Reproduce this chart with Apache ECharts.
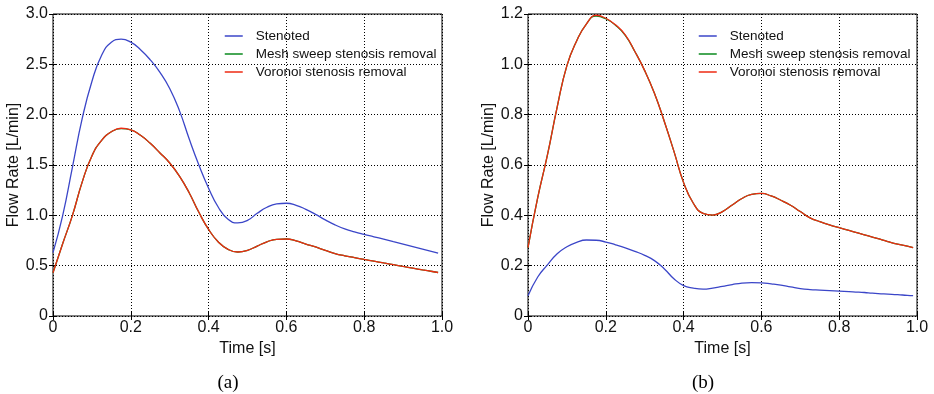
<!DOCTYPE html>
<html><head><meta charset="utf-8">
<script src="https://cdn.jsdelivr.net/npm/echarts@6/dist/echarts.min.js"></script>
<style>html,body{margin:0;padding:0;background:#fff}#c{width:934px;height:394px}</style>
</head><body><div id="c"></div>
<script>
// ---- data ----
const time = [0, 0.025, 0.05, 0.075, 0.1, 0.125, 0.15, 0.175, 0.2, 0.225, 0.25, 0.275, 0.3, 0.325, 0.35, 0.375, 0.4, 0.425, 0.45, 0.475, 0.5, 0.525, 0.55, 0.575, 0.6, 0.625, 0.65, 0.675, 0.7, 0.725, 0.75, 0.775, 0.8, 0.825, 0.85, 0.875, 0.9, 0.925, 0.95, 0.975, 0.99];
const seriesNames = ['Stenoted', 'Mesh sweep stenosis removal', 'Voronoi stenosis removal'];
// panel (a)
const aStenoted = [0.63, 1.00, 1.48, 1.96, 2.33, 2.59, 2.72, 2.75, 2.72, 2.645, 2.545, 2.42, 2.26, 2.04, 1.76, 1.50, 1.27, 1.08, 0.96, 0.925, 0.95, 1.02, 1.08, 1.113, 1.12, 1.10, 1.06, 1.01, 0.955, 0.905, 0.865, 0.835, 0.81, 0.787, 0.763, 0.738, 0.714, 0.69, 0.665, 0.64, 0.625];
const aMesh     = [0.43, 0.72, 1.00, 1.33, 1.59, 1.745, 1.83, 1.862, 1.85, 1.795, 1.715, 1.62, 1.52, 1.39, 1.225, 1.03, 0.86, 0.735, 0.662, 0.636, 0.652, 0.695, 0.737, 0.762, 0.765, 0.746, 0.715, 0.686, 0.652, 0.62, 0.598, 0.58, 0.562, 0.545, 0.527, 0.51, 0.492, 0.475, 0.458, 0.442, 0.432];
const aVoronoi  = [0.43, 0.72, 1.00, 1.33, 1.59, 1.745, 1.83, 1.865, 1.85, 1.795, 1.715, 1.62, 1.52, 1.39, 1.225, 1.03, 0.86, 0.735, 0.662, 0.636, 0.652, 0.695, 0.737, 0.762, 0.765, 0.746, 0.715, 0.686, 0.652, 0.62, 0.598, 0.58, 0.562, 0.545, 0.527, 0.51, 0.492, 0.475, 0.458, 0.442, 0.432];
// panel (b)
const bStenoted = [0.08, 0.155, 0.203, 0.247, 0.275, 0.293, 0.302, 0.301, 0.294, 0.283, 0.271, 0.257, 0.241, 0.22, 0.188, 0.148, 0.121, 0.111, 0.107, 0.111, 0.118, 0.125, 0.131, 0.133, 0.132, 0.128, 0.123, 0.116, 0.109, 0.105, 0.103, 0.101, 0.099, 0.097, 0.095, 0.092, 0.089, 0.087, 0.085, 0.082, 0.081];
const bMesh     = [0.272, 0.47, 0.64, 0.83, 0.995, 1.093, 1.16, 1.192, 1.181, 1.155, 1.115, 1.05, 0.975, 0.885, 0.775, 0.655, 0.53, 0.448, 0.408, 0.401, 0.415, 0.441, 0.467, 0.483, 0.487, 0.477, 0.46, 0.44, 0.415, 0.39, 0.375, 0.362, 0.351, 0.34, 0.329, 0.318, 0.307, 0.296, 0.286, 0.278, 0.272];
const bVoronoi  = [0.272, 0.47, 0.64, 0.83, 0.995, 1.093, 1.16, 1.195, 1.183, 1.157, 1.117, 1.05, 0.975, 0.885, 0.775, 0.655, 0.53, 0.448, 0.408, 0.401, 0.415, 0.441, 0.467, 0.483, 0.487, 0.477, 0.46, 0.44, 0.415, 0.39, 0.375, 0.362, 0.351, 0.34, 0.329, 0.318, 0.307, 0.296, 0.286, 0.278, 0.272];
const xTicks = [0, 0.2, 0.4, 0.6, 0.8, 1.0];
const aYTicks = [0, 0.5, 1.0, 1.5, 2.0, 2.5, 3.0];
const bYTicks = [0, 0.2, 0.4, 0.6, 0.8, 1.0, 1.2];
const xName = 'Time [s]';
const yName = 'Flow Rate [L/min]';
const captions = ['(a)', '(b)'];

// ---- chart ----
const colors = ['#3b46c8', '#0a8a1e', '#ee2a12'];
const FONT = 'Liberation Sans, Arial, sans-serif';
const fmt = v => (v === 0 ? '0' : v.toFixed(1));
const pairs = arr => time.map((t, i) => [t, arr[i]]);

function mainX(gi) {
  return {
    type: 'value', gridIndex: gi, min: xTicks[0], max: xTicks[xTicks.length - 1],
    interval: xTicks[1] - xTicks[0],
    name: xName, nameLocation: 'middle', nameGap: 19,
    nameTextStyle: { fontFamily: FONT, fontSize: 16, color: '#111' },
    axisLine: { show: false },
    axisTick: { show: true, inside: true, length: 4, lineStyle: { color: '#000' } },
    axisLabel: { formatter: fmt, fontFamily: FONT, fontSize: 16, color: '#111', margin: 4 },
    splitLine: { show: true, lineStyle: { color: '#000', type: [1, 2], width: 1 } }
  };
}
function mainY(gi, ticks) {
  return {
    type: 'value', gridIndex: gi, min: ticks[0], max: ticks[ticks.length - 1],
    interval: ticks[1] - ticks[0],
    name: yName, nameLocation: 'middle', nameGap: 29, nameRotate: 90,
    nameTextStyle: { fontFamily: FONT, fontSize: 16, color: '#111' },
    axisLine: { show: false },
    axisTick: { show: true, inside: true, length: 4, lineStyle: { color: '#000' } },
    axisLabel: { formatter: fmt, fontFamily: FONT, fontSize: 16, color: '#111', margin: 5 },
    splitLine: { show: true, lineStyle: { color: '#000', type: [1, 2], width: 1 } }
  };
}
function sideX(gi) {
  return { type: 'value', gridIndex: gi, position: 'top', min: xTicks[0], max: xTicks[xTicks.length - 1],
    interval: xTicks[1] - xTicks[0], axisLine: { show: false }, axisLabel: { show: false },
    axisTick: { show: true, inside: true, length: 4, lineStyle: { color: '#000' } }, splitLine: { show: false } };
}
function sideY(gi, ticks) {
  return { type: 'value', gridIndex: gi, position: 'right', min: ticks[0], max: ticks[ticks.length - 1],
    interval: ticks[1] - ticks[0], axisLine: { show: false }, axisLabel: { show: false },
    axisTick: { show: true, inside: true, length: 4, lineStyle: { color: '#000' } }, splitLine: { show: false } };
}
function line(name, data, xi, yi, ci) {
  return { type: 'line', name, data: pairs(data), xAxisIndex: xi, yAxisIndex: yi,
    symbol: 'none', smooth: 0.5, lineStyle: { color: colors[ci], width: 1.3 }, itemStyle: { color: colors[ci] },
    z: 3 + ci, animation: false };
}
function legend(left) {
  return { left, top: 24, orient: 'vertical', itemWidth: 18, itemHeight: 14, itemGap: 4,
    data: seriesNames, selectedMode: false,
    itemStyle: { opacity: 0, color: 'transparent', borderWidth: 0 },
    lineStyle: { width: 1.5 },
    textStyle: { fontFamily: FONT, fontSize: 13.5, color: '#111', padding: [0, 0, 0, 8] } };
}

const chart = echarts.init(document.getElementById('c'), null, { renderer: 'canvas' });
chart.setOption({
  animation: false,
  backgroundColor: '#fff',
  grid: [
    { left: 53, top: 14, width: 389, height: 302, show: true, borderColor: '#000', borderWidth: 1, backgroundColor: 'transparent' },
    { left: 528, top: 14, width: 389, height: 302, show: true, borderColor: '#000', borderWidth: 1, backgroundColor: 'transparent' }
  ],
  xAxis: [mainX(0), mainX(1), sideX(0), sideX(1)],
  yAxis: [mainY(0, aYTicks), mainY(1, bYTicks), sideY(0, aYTicks), sideY(1, bYTicks)],
  legend: [legend(219), legend(693)],
  series: [
    line(seriesNames[0], aStenoted, 0, 0, 0),
    line(seriesNames[1], aMesh, 0, 0, 1),
    line(seriesNames[2], aVoronoi, 0, 0, 2),
    line(seriesNames[0], bStenoted, 1, 1, 0),
    line(seriesNames[1], bMesh, 1, 1, 1),
    line(seriesNames[2], bVoronoi, 1, 1, 2)
  ],
  graphic: [
    { type: 'text', x: 228, y: 383, style: { text: captions[0], font: '19px "Liberation Serif", serif', textAlign: 'center', textVerticalAlign: 'middle', fill: '#000' } },
    { type: 'text', x: 703, y: 383, style: { text: captions[1], font: '19px "Liberation Serif", serif', textAlign: 'center', textVerticalAlign: 'middle', fill: '#000' } }
  ]
});
</script>
</body></html>
